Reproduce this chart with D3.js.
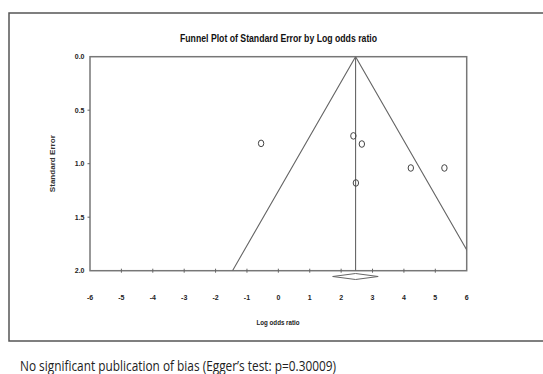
<!DOCTYPE html>
<html><head><meta charset="utf-8">
<script src="https://cdn.jsdelivr.net/npm/d3@7"></script>
<style>body{margin:0;background:#fff}svg{display:block}</style>
</head><body>
<script>
const studyLogOR = [-0.55, 2.39, 2.66, 2.47, 4.22, 5.29];
const studySE    = [0.81, 0.74, 0.816, 1.18, 1.04, 1.04];
const pooled = 2.46, pooledLow = 1.73, pooledHigh = 3.18;
const xTicks = [-6,-5,-4,-3,-2,-1,0,1,2,3,4,5,6];
const yTicks = [0.0,0.5,1.0,1.5,2.0];
const title = "Funnel Plot of Standard Error by Log odds ratio";
const xLabel = "Log odds ratio", yLabel = "Standard Error";
const note = "No significant publication of bias (Egger\u2019s test: p=0.30009)";

const W=543,H=374;
const svg=d3.select("body").append("svg").attr("width",W).attr("height",H);
const L=90,R=466.7,T=56.7,B=270.7;
const x=d3.scaleLinear().domain([-6,6]).range([L,R]);
const y=d3.scaleLinear().domain([0,2]).range([T,B]);

svg.append("rect").attr("x",9).attr("y",13).attr("width",540).attr("height",328)
  .attr("fill","none").attr("stroke","#555").attr("stroke-width",1.5);

svg.append("text").attr("x",278.5).attr("y",42).attr("text-anchor","middle")
  .attr("font-family","Liberation Sans, Arial").attr("font-weight","bold").attr("font-size",11)
  .attr("textLength",197).attr("lengthAdjust","spacingAndGlyphs").attr("fill","#111").text(title);

svg.append("defs").append("clipPath").attr("id","pc").append("rect")
  .attr("x",L).attr("y",T).attr("width",R-L).attr("height",B-T);

svg.append("rect").attr("x",L).attr("y",T).attr("width",R-L).attr("height",B-T)
  .attr("fill","none").attr("stroke","#777").attr("stroke-width",1.5);

const g=svg.append("g").attr("clip-path","url(#pc)");
const line=d3.line().x(d=>x(d[0])).y(d=>y(d[1]));
g.append("path").attr("d",line([[pooled-1.96*2,2],[pooled,0],[pooled+1.96*2,2]]))
  .attr("fill","none").attr("stroke","#666").attr("stroke-width",1.1);
g.append("path").attr("d",line([[pooled,0],[pooled,2]]))
  .attr("fill","none").attr("stroke","#666").attr("stroke-width",1.1);

const xa=svg.append("g");
xTicks.forEach(t=>{
  if(t>-6 && t<6) xa.append("line").attr("x1",x(t)).attr("x2",x(t)).attr("y1",B-2).attr("y2",B+2).attr("stroke","#666");
  xa.append("text").attr("x",x(t)).attr("y",300).attr("text-anchor","middle")
    .attr("font-family","Liberation Sans, Arial").attr("font-weight","bold").attr("font-size",7).attr("fill","#222")
    .text(t);
});
const ya=svg.append("g");
yTicks.forEach(t=>{
  if(t>0 && t<2) ya.append("line").attr("x1",L-2.5).attr("x2",L).attr("y1",y(t)).attr("y2",y(t)).attr("stroke","#666");
  ya.append("text").attr("x",84.5).attr("y",y(t)+2.3).attr("text-anchor","end")
    .attr("font-family","Liberation Sans, Arial").attr("font-weight","bold").attr("font-size",7).attr("fill","#222")
    .text(t.toFixed(1));
});

svg.append("text").attr("x",278).attr("y",325).attr("text-anchor","middle")
  .attr("font-family","Liberation Sans, Arial").attr("font-weight","bold").attr("font-size",6.8)
  .attr("textLength",43).attr("lengthAdjust","spacingAndGlyphs").attr("fill","#222").text(xLabel);
svg.append("text").attr("transform",`translate(54.5,${(T+B)/2}) rotate(-90)`).attr("text-anchor","middle")
  .attr("font-family","Liberation Sans, Arial").attr("font-weight","bold").attr("font-size",7)
  .attr("textLength",57).attr("lengthAdjust","spacingAndGlyphs").attr("fill","#333").text(yLabel);

const dy=276.5;
svg.append("path").attr("d",`M${x(pooledLow)},${dy}L${x(pooled)},${dy-3}L${x(pooledHigh)},${dy}L${x(pooled)},${dy+3}Z`)
  .attr("fill","#fff").attr("stroke","#666").attr("stroke-width",1);

svg.selectAll("ellipse.pt").data(studyLogOR).join("ellipse").attr("class","pt")
  .attr("cx",(d)=>x(d)).attr("cy",(d,i)=>y(studySE[i])).attr("rx",2.7).attr("ry",3.3)
  .attr("fill","none").attr("stroke","#444").attr("stroke-width",1);

svg.append("text").attr("x",20).attr("y",371).attr("font-family","Open Sans, sans-serif")
  .attr("font-size",14).attr("textLength",316).attr("lengthAdjust","spacingAndGlyphs").attr("fill","#222").text(note);
</script>
</body></html>
